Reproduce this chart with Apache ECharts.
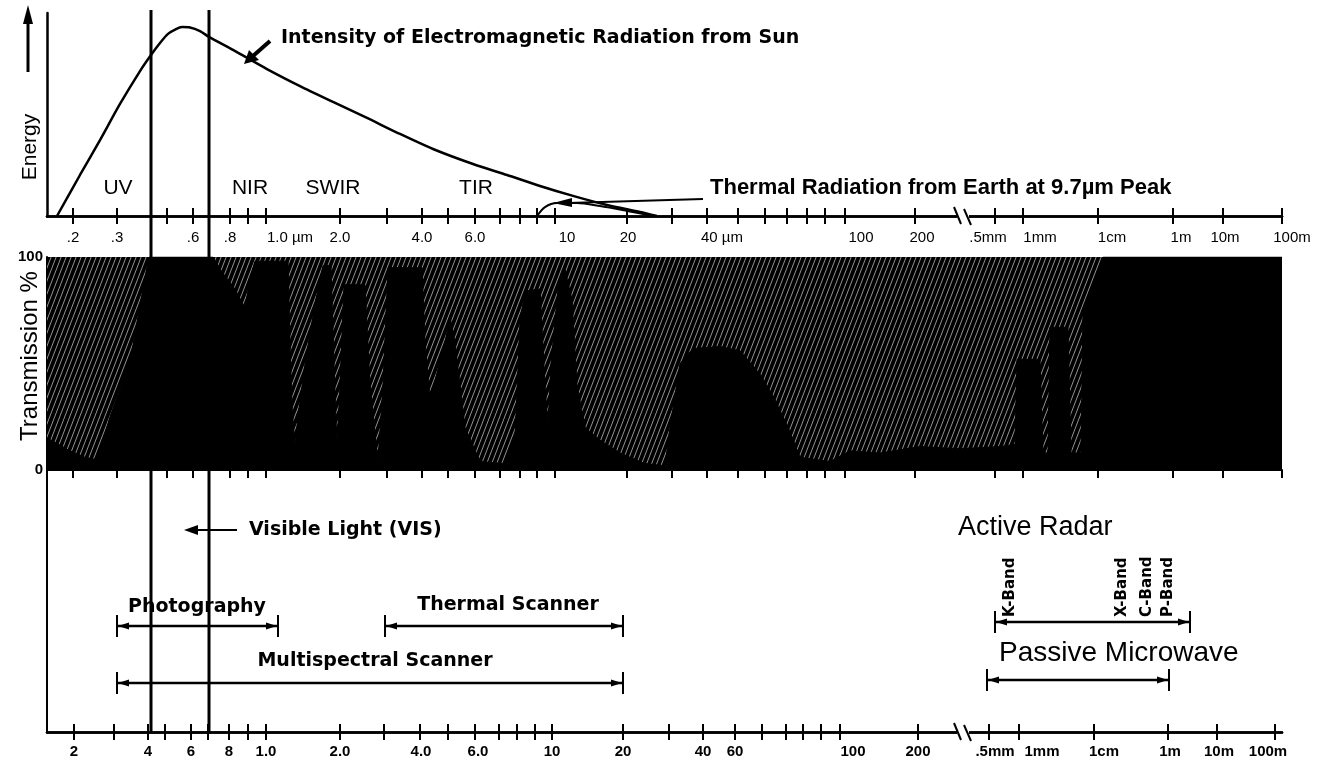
<!DOCTYPE html>
<html><head><meta charset="utf-8">
<script src="https://cdn.jsdelivr.net/npm/echarts@6/dist/echarts.min.js"></script>
<style>html,body{margin:0;padding:0;background:#fff}#c{width:1319px;height:767px}</style>
</head><body><div id="c"></div>
<script>
// Horizontal values are positions on the diagram's own (non-uniform, log-like) wavelength scale.
const axisMin = 0, axisMax = 1235;

const topTickPos = [26, 70, 104, 120, 146, 162, 183, 201, 219, 293, 340, 375, 401, 428, 453, 473, 490, 508, 580, 625, 660, 691, 718, 740, 760, 778, 798, 868, 948, 976, 1051, 1126, 1176, 1235];
const topLabelText = ['.2', '.3', '.6', '.8', '1.0 µm', '2.0', '4.0', '6.0', '10', '20', '40 µm', '100', '200', '.5mm', '1mm', '1cm', '1m', '10m', '100m'];
const topLabelPos = [26, 70, 146, 183, 243, 293, 375, 428, 520, 581, 675, 814, 875, 941, 993, 1065, 1134, 1178, 1235];

const bottomTickPos = [27, 67, 101, 118, 144, 161, 182, 201, 219, 293, 337, 373, 401, 428, 452, 470, 488, 505, 576, 622, 656, 688, 715, 739, 756, 774, 793, 871, 942, 972, 1047, 1121, 1170, 1228];
const bottomLabelText = ['2', '4', '6', '8', '1.0', '2.0', '4.0', '6.0', '10', '20', '40', '60', '100', '200', '.5mm', '1mm', '1cm', '1m', '10m', '100m'];
const bottomLabelPos = [27, 101, 144, 182, 219, 293, 374, 431, 505, 576, 656, 688, 806, 871, 948, 995, 1057, 1123, 1172, 1221];

const scaleBreakPos = 916;
const visibleBounds = [104, 162];

// Solar intensity curve (energy, relative 0-100)
const sunX = [10, 33, 53, 73, 93, 104, 113, 121, 129, 135, 143, 153, 162, 186, 220, 253, 286, 320, 353, 386, 426, 460, 493, 526, 560, 593, 610];
const sunE = [0, 20.2, 37.4, 55.2, 71.4, 79.3, 85.2, 89.7, 92.1, 93.1, 92.9, 91.1, 88.2, 81.8, 72.4, 64.0, 56.2, 48.3, 40.4, 33.0, 25.6, 20.2, 14.8, 9.9, 5.4, 2.0, 0];

// Earth thermal emission curve
const earthX = [490, 498, 510, 530, 553, 580, 606];
const earthE = [0, 4.4, 6.4, 6.4, 4.9, 2.5, 0];

// Atmospheric transmission %
const transX = [0, 8, 23, 38, 48, 53, 63, 75, 85, 91, 97, 102, 166, 175, 188, 198, 203, 208, 241, 243, 245, 248, 251, 258, 268, 276, 284, 287, 290, 293, 297, 318, 323, 331, 336, 341, 375, 378, 383, 398, 403, 408, 418, 433, 458, 468, 473, 478, 493, 498, 501, 504, 511, 518, 525, 530, 538, 553, 573, 598, 618, 623, 633, 646, 673, 693, 713, 728, 743, 753, 783, 803, 833, 873, 913, 953, 968, 970, 993, 996, 1001, 1003, 1021, 1024, 1034, 1036, 1048, 1056, 1235];
const transT = [15, 13, 9, 6, 5, 9, 25, 41, 56, 72, 88, 100, 100, 93, 85, 76, 90, 98, 98, 60, 30, 11, 25, 50, 78, 96, 96, 50, 10, 40, 87, 87, 40, 4, 40, 95, 95, 60, 33, 60, 72, 60, 20, 4, 3, 15, 70, 84, 85, 40, 20, 50, 85, 94, 80, 40, 20, 14, 8, 3, 2, 20, 50, 57, 58, 56, 45, 33, 18, 6, 4, 9, 8, 11, 10, 11, 12, 52, 52, 8, 8, 67, 67, 8, 8, 75, 90, 100, 100];

// Sensor ranges
const sensorNames = ['Photography', 'Thermal Scanner', 'Multispectral Scanner', 'Active Radar', 'Passive Microwave'];
const sensorStart = [70, 338, 70, 948, 940];
const sensorEnd = [231, 576, 576, 1143, 1122];

const bandNames = ['K-Band', 'X-Band', 'C-Band', 'P-Band'];
const bandPos = [963, 1075, 1100, 1121];

// ---- layout (not data) ----
const GL = 47, GW = 1235;
const sensorRow = [40.5, 40.5, 18.7, 42.0, 19.8];
const bandRow = 43.9;
const SANS = "'Liberation Sans', Arial, sans-serif";
const HEAVY = "'DejaVu Sans', sans-serif";

// hatch pattern (dense diagonal streaks on black)
const pc = document.createElement('canvas');
pc.width = 5; pc.height = 13;
const g = pc.getContext('2d');
g.fillStyle = '#000'; g.fillRect(0, 0, 5, 13);
g.strokeStyle = '#b8b8b8'; g.lineWidth = 0.8;
[-5, 0, 5].forEach(ox => { g.beginPath(); g.moveTo(ox, 13); g.lineTo(ox + 5, 0); g.stroke(); });
const hatch = { image: pc, repeat: 'repeat' };

function zip(a, b) { return a.map((v, i) => [v, b[i]]); }
function labelFmt(pos, text) { return v => { const i = pos.indexOf(v); return i < 0 ? '' : text[i]; }; }

const axBase = { type: 'value', min: axisMin, max: axisMax, splitLine: { show: false }, axisLine: { onZero: false, lineStyle: { color: '#000', width: 2.5 } } };
const noLab = { show: false };

function breakItem(p, api) {
  const c = api.coord([api.value(0), api.value(1)]);
  return { type: 'group', children: [
    { type: 'rect', shape: { x: c[0] - 6, y: c[1] - 3, width: 12, height: 6 }, style: { fill: '#fff' } },
    { type: 'line', shape: { x1: c[0] - 9, y1: c[1] - 9, x2: c[0] - 2, y2: c[1] + 8 }, style: { stroke: '#000', lineWidth: 2 } },
    { type: 'line', shape: { x1: c[0] + 1, y1: c[1] - 7, x2: c[0] + 8, y2: c[1] + 9 }, style: { stroke: '#000', lineWidth: 2 } }
  ] };
}

const option = {
  animation: false,
  backgroundColor: '#fff',
  grid: [
    { left: GL, width: GW, top: 13, height: 203, outerBoundsMode: 'none', containLabel: false },
    { left: GL, width: GW, top: 257, height: 213, outerBoundsMode: 'none', containLabel: false },
    { left: GL, width: GW, top: 470, height: 262, outerBoundsMode: 'none', containLabel: false },
    { left: GL, width: GW, top: 10, height: 722, outerBoundsMode: 'none', containLabel: false }
  ],
  xAxis: [
    Object.assign({}, axBase, { gridIndex: 0, position: 'bottom', axisTick: { inside: true, length: 8, customValues: topTickPos, lineStyle: { width: 2, color: '#000' } }, axisLabel: noLab }),
    Object.assign({}, axBase, { gridIndex: 0, position: 'bottom', axisTick: { inside: false, length: 8, customValues: topTickPos, lineStyle: { width: 2, color: '#000' } },
      axisLabel: { customValues: topLabelPos, formatter: v => { const t = labelFmt(topLabelPos, topLabelText)(v); return t === '100m' ? '{r|100m}' : t; }, margin: 14, color: '#000', fontSize: 15, fontFamily: SANS,
        rich: { r: { padding: [0, 0, 0, 20], fontSize: 15, fontFamily: SANS, color: '#000' } } } }),
    Object.assign({}, axBase, { gridIndex: 1, position: 'bottom', axisLine: { onZero: false, lineStyle: { color: '#000', width: 2 } }, axisTick: { inside: false, length: 8, customValues: topTickPos, lineStyle: { width: 2, color: '#000' } }, axisLabel: noLab }),
    Object.assign({}, axBase, { gridIndex: 2, position: 'bottom', axisTick: { inside: true, length: 8, customValues: bottomTickPos, lineStyle: { width: 2, color: '#000' } }, axisLabel: noLab }),
    Object.assign({}, axBase, { gridIndex: 2, position: 'bottom', axisTick: { inside: false, length: 8, customValues: bottomTickPos, lineStyle: { width: 2, color: '#000' } },
      axisLabel: { customValues: bottomLabelPos, formatter: labelFmt(bottomLabelPos, bottomLabelText), margin: 12, color: '#000', fontSize: 15, fontWeight: 'bold', fontFamily: SANS } }),
    Object.assign({}, axBase, { gridIndex: 3, show: false })
  ],
  yAxis: [
    { type: 'value', gridIndex: 0, min: 0, max: 100, splitLine: { show: false }, axisLine: { show: true, lineStyle: { color: '#000', width: 2.5 } }, axisTick: { show: false }, axisLabel: noLab },
    { type: 'value', gridIndex: 1, min: 0, max: 100, splitLine: { show: false }, axisLine: { show: true, lineStyle: { color: '#000', width: 2 } }, axisTick: { show: false },
      axisLabel: { customValues: [0, 100], margin: 4, color: '#000', fontSize: 15, fontWeight: 'bold', fontFamily: SANS } },
    { type: 'value', gridIndex: 2, min: 0, max: 100, splitLine: { show: false }, axisLine: { show: true, lineStyle: { color: '#000', width: 2 } }, axisTick: { show: false }, axisLabel: noLab },
    { type: 'value', gridIndex: 3, min: 0, max: 100, show: false, splitLine: { show: false } }
  ],
  series: [
    { name: 'Sun', type: 'line', xAxisIndex: 0, yAxisIndex: 0, data: zip(sunX, sunE), smooth: 0.25, symbol: 'none', lineStyle: { color: '#000', width: 2.5 }, z: 3 },
    { name: 'Earth', type: 'line', xAxisIndex: 0, yAxisIndex: 0, data: zip(earthX, earthE), smooth: 0.3, symbol: 'none', lineStyle: { color: '#000', width: 2 }, z: 3 },
    { name: 'Absorbed', type: 'line', xAxisIndex: 2, yAxisIndex: 1, data: [[axisMin, 100], [axisMax, 100]], symbol: 'none', lineStyle: { width: 0 }, areaStyle: { color: hatch, opacity: 1 }, z: 1 },
    { name: 'Transmission', type: 'line', xAxisIndex: 2, yAxisIndex: 1, data: zip(transX, transT), symbol: 'none', lineStyle: { color: '#000', width: 1 }, areaStyle: { color: '#000', opacity: 1 }, z: 2 },
    { name: 'VIS', type: 'custom', xAxisIndex: 5, yAxisIndex: 3, data: visibleBounds.map(v => [v]), z: 6,
      renderItem: (p, api) => { const a = api.coord([api.value(0), 0]); const b = api.coord([api.value(0), 100]);
        return { type: 'line', shape: { x1: a[0], y1: a[1], x2: b[0], y2: b[1] }, style: { stroke: '#000', lineWidth: 3 } }; } },
    { name: 'Sensors', type: 'custom', xAxisIndex: 4, yAxisIndex: 2, data: sensorNames.map((n, i) => [sensorStart[i], sensorEnd[i], sensorRow[i]]), encode: { x: [0, 1], y: 2 }, z: 7,
      renderItem: (p, api) => {
        const s = api.coord([api.value(0), api.value(2)]), e = api.coord([api.value(1), api.value(2)]);
        const st = { stroke: '#000', lineWidth: 2 };
        return { type: 'group', children: [
          { type: 'line', shape: { x1: s[0], y1: s[1], x2: e[0], y2: e[1] }, style: { stroke: '#000', lineWidth: 2.5 } },
          { type: 'line', shape: { x1: s[0], y1: s[1] - 11, x2: s[0], y2: s[1] + 11 }, style: st },
          { type: 'line', shape: { x1: e[0], y1: e[1] - 11, x2: e[0], y2: e[1] + 11 }, style: st },
          { type: 'polygon', shape: { points: [[s[0] + 1, s[1]], [s[0] + 12, s[1] - 3.5], [s[0] + 12, s[1] + 3.5]] }, style: { fill: '#000' } },
          { type: 'polygon', shape: { points: [[e[0] - 1, e[1]], [e[0] - 12, e[1] - 3.5], [e[0] - 12, e[1] + 3.5]] }, style: { fill: '#000' } }
        ] };
      } },
    { name: 'Bands', type: 'custom', xAxisIndex: 4, yAxisIndex: 2, data: bandPos.map(v => [v, bandRow]), z: 7,
      renderItem: (p, api) => { const c = api.coord([api.value(0), api.value(1)]);
        return { type: 'text', x: c[0], y: c[1], rotation: Math.PI / 2,
          style: { text: bandNames[p.dataIndex], fontFamily: HEAVY, fontWeight: 'bold', fontSize: 15, fill: '#000', align: 'left', verticalAlign: 'middle' } }; } },
    { name: 'BreakTop', type: 'custom', xAxisIndex: 0, yAxisIndex: 0, data: [[scaleBreakPos, 0]], z: 8, renderItem: breakItem },
    { name: 'BreakBottom', type: 'custom', xAxisIndex: 4, yAxisIndex: 2, data: [[scaleBreakPos, 0]], z: 8, renderItem: breakItem }
  ],
  graphic: [
    { type: 'line', shape: { x1: 28, y1: 72, x2: 28, y2: 20 }, style: { stroke: '#000', lineWidth: 3 } },
    { type: 'polygon', shape: { points: [[28, 5], [23, 24], [33, 24]] }, style: { fill: '#000' } },
    { type: 'text', x: 30, y: 147, rotation: Math.PI / 2, style: { text: 'Energy', font: '21px ' + SANS, fill: '#000', align: 'center', verticalAlign: 'middle' } },
    { type: 'text', x: 30, y: 356, rotation: Math.PI / 2, style: { text: 'Transmission %', font: '24px ' + SANS, fill: '#000', align: 'center', verticalAlign: 'middle' } },
    { type: 'text', x: 281, y: 38, style: { text: 'Intensity of Electromagnetic Radiation from Sun', font: 'bold 19px ' + HEAVY, fill: '#000', align: 'left', verticalAlign: 'middle' } },
    { type: 'line', shape: { x1: 270, y1: 41, x2: 253, y2: 56 }, style: { stroke: '#000', lineWidth: 4 } },
    { type: 'polygon', shape: { points: [[244, 64], [249, 50], [259, 60]] }, style: { fill: '#000' } },
    { type: 'text', x: 118, y: 188, style: { text: 'UV', font: '21px ' + SANS, fill: '#000', align: 'center', verticalAlign: 'middle' } },
    { type: 'text', x: 250, y: 188, style: { text: 'NIR', font: '21px ' + SANS, fill: '#000', align: 'center', verticalAlign: 'middle' } },
    { type: 'text', x: 333, y: 188, style: { text: 'SWIR', font: '21px ' + SANS, fill: '#000', align: 'center', verticalAlign: 'middle' } },
    { type: 'text', x: 476, y: 188, style: { text: 'TIR', font: '21px ' + SANS, fill: '#000', align: 'center', verticalAlign: 'middle' } },
    { type: 'text', x: 710, y: 188, style: { text: 'Thermal Radiation from Earth at 9.7µm Peak', font: 'bold 22px ' + SANS, fill: '#000', align: 'left', verticalAlign: 'middle' } },
    { type: 'line', shape: { x1: 703, y1: 199, x2: 568, y2: 203 }, style: { stroke: '#000', lineWidth: 2 } },
    { type: 'polygon', shape: { points: [[553, 203], [572, 198], [572, 207]] }, style: { fill: '#000' } },
    { type: 'line', shape: { x1: 195, y1: 530, x2: 237, y2: 530 }, style: { stroke: '#000', lineWidth: 2 } },
    { type: 'polygon', shape: { points: [[184, 530], [198, 525], [198, 535]] }, style: { fill: '#000' } },
    { type: 'text', x: 249, y: 530, style: { text: 'Visible Light (VIS)', font: 'bold 19px ' + HEAVY, fill: '#000', align: 'left', verticalAlign: 'middle' } },
    { type: 'text', x: 197, y: 607, style: { text: sensorNames[0], font: 'bold 19px ' + HEAVY, fill: '#000', align: 'center', verticalAlign: 'middle' } },
    { type: 'text', x: 508, y: 605, style: { text: sensorNames[1], font: 'bold 19px ' + HEAVY, fill: '#000', align: 'center', verticalAlign: 'middle' } },
    { type: 'text', x: 375, y: 661, style: { text: sensorNames[2], font: 'bold 19px ' + HEAVY, fill: '#000', align: 'center', verticalAlign: 'middle' } },
    { type: 'text', x: 958, y: 528, style: { text: sensorNames[3], font: '27px ' + SANS, fill: '#000', align: 'left', verticalAlign: 'middle' } },
    { type: 'text', x: 999, y: 653, style: { text: sensorNames[4], font: '28px ' + SANS, fill: '#000', align: 'left', verticalAlign: 'middle' } }
  ]
};

const chart = echarts.init(document.getElementById('c'), null, { renderer: 'canvas' });
chart.setOption(option);
</script>
</body></html>
